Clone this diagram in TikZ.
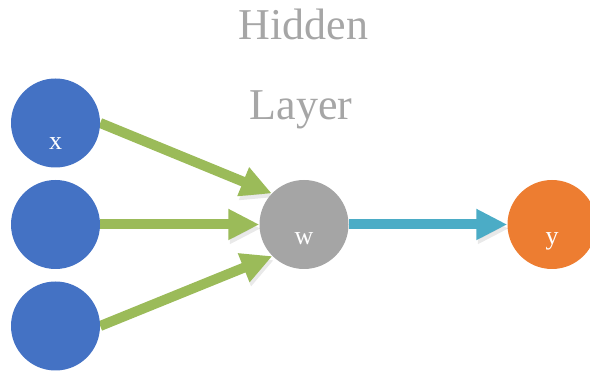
\documentclass[tikz,border=0pt]{standalone}
\usepackage{fontspec}
\setmainfont{Liberation Serif}
\usepackage{tikz}
\usetikzlibrary{arrows.meta,backgrounds}
\definecolor{inp}{HTML}{4472C4}
\definecolor{hid}{HTML}{A5A5A5}
\definecolor{outp}{HTML}{ED7D31}
\definecolor{wgt}{HTML}{9BBB59}
\definecolor{fwd}{HTML}{4BACC6}
\definecolor{cap}{HTML}{A6A6A6}
\begin{document}
\begin{tikzpicture}[x=1pt,y=1pt,  % 1 unit = 1 px of the sketch
  neuron/.style={circle,minimum size=89pt,inner sep=0pt},
  lbl/.style={anchor=base,text=white,font=\fontsize{26}{26}\selectfont},
  edge/.style={line width=10pt,-{Triangle[length=31pt,width=29pt]},
    preaction={draw=black!35,opacity=0.25,transform canvas={shift={(1.5pt,-4pt)}}}}]
  \useasboundingbox (0,0) rectangle (590,371);
  % ---- input layer
  \node[neuron,fill=inp] (x1) at (55.5,248) {};
  \node[neuron,fill=inp] (x2) at (55.5,146.5) {};
  \node[neuron,fill=inp] (x3) at (55.5,45) {};
  \node[lbl] (lx) at (55.5,221) {x};
  % ---- hidden + output
  \node[neuron,fill=hid] (w) at (304,146.5) {};
  \node[lbl] (lw) at (304,126) {w};
  \node[neuron,fill=outp] (y) at (552,146.5) {};
  \node[lbl] (ly) at (552,126) {y};
  % ---- caption
  \node[anchor=base,text=cap,font=\fontsize{44}{44}\selectfont] (cap1) at (303.5,331) {Hidden};
  \node[anchor=base,text=cap,font=\fontsize{44}{44}\selectfont] (cap2) at (301,251) {Layer};
  % ---- connections, kept under the circles
  \begin{scope}[on background layer]
    \draw[edge,wgt] (x1.east) -- (w.136);
    \draw[edge,wgt] (x2.east) -- (w.west);
    \draw[edge,wgt] (x3.east) -- (w.225);
    \draw[edge,fwd] (w.east) -- (y.west);
  \end{scope}
\end{tikzpicture}
\end{document}
